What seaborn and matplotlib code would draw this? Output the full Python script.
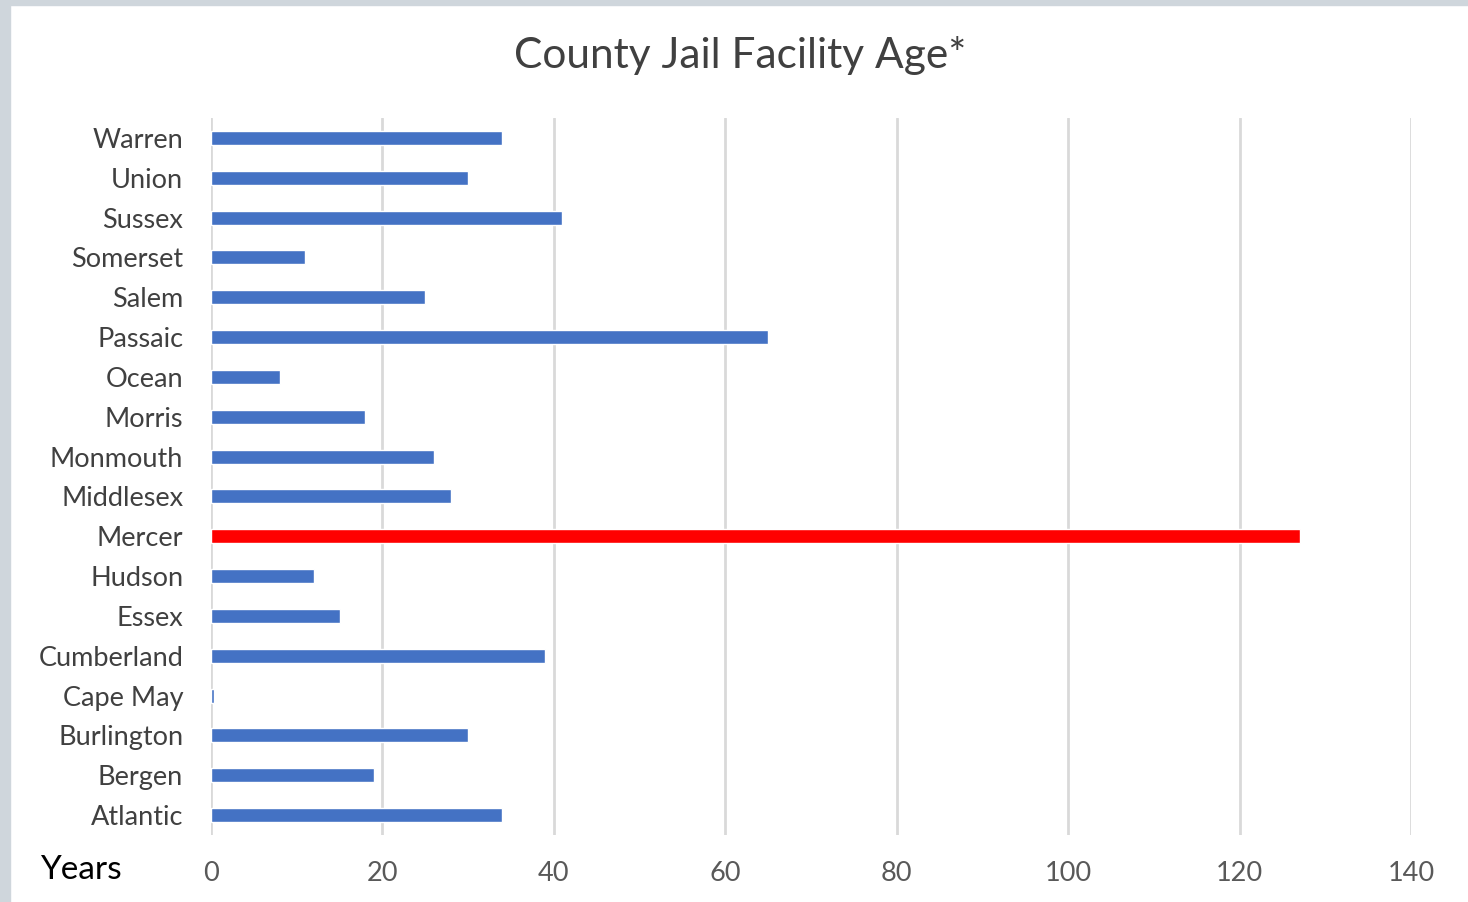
import pandas as pd
import matplotlib.pyplot as plt
import seaborn as sns
from matplotlib.patches import Rectangle

# County jail facility age (years), top of chart first
counties = ['Warren', 'Union', 'Sussex', 'Somerset', 'Salem', 'Passaic', 'Ocean',
            'Morris', 'Monmouth', 'Middlesex', 'Mercer', 'Hudson', 'Essex',
            'Cumberland', 'Cape May', 'Burlington', 'Bergen', 'Atlantic']
ages = [34, 30, 41, 11, 25, 65, 8, 18, 26, 28, 127, 12, 15, 39, 0.4, 30, 19, 34]
highlight = 'Mercer'
x_ticks = [0, 20, 40, 60, 80, 100, 120, 140]

df = pd.DataFrame({'County': counties, 'Age': ages})
df['Group'] = ['hi' if c == highlight else 'base' for c in df['County']]

sns.set_style('white')
plt.rcParams['font.family'] = ['Lato', 'DejaVu Sans']

fig = plt.figure(figsize=(14.68, 9.02), dpi=100)
ax = fig.add_axes([0.1437, 0.0743, 0.8175, 0.7949])

sns.barplot(data=df, x='Age', y='County', hue='Group', order=counties,
            palette={'base': '#4472C4', 'hi': '#FF0000'}, width=0.35,
            saturation=1, dodge=False, legend=False, ax=ax)

ax.set_xlim(0, 140)
ax.set_xticks(x_ticks)
ax.grid(axis='x', color='#d9d9d9', linewidth=2)
ax.set_axisbelow(True)
for s in ax.spines.values():
    s.set_visible(False)
ax.tick_params(axis='y', length=0, pad=20, labelsize=19.5, labelcolor='#404040')
ax.tick_params(axis='x', length=0, pad=19, labelsize=19.5, labelcolor='#595959')
for lbl in ax.get_yticklabels() + ax.get_xticklabels():
    lbl.set_fontstretch('expanded')
ax.set_xlabel('')
ax.set_ylabel('')

fig.text(0.504, 0.938, 'County Jail Facility Age*', ha='center', va='center',
         fontsize=30.5, color='#404040')
fig.text(0.027, 0.036, 'Years', ha='left', va='center', fontsize=24, color='black')

# screenshot frame on the left and top
fig.patches.append(Rectangle((0, 0), 0.007, 1, transform=fig.transFigure,
                             color='#cfd6dc', zorder=0))
fig.patches.append(Rectangle((0, 0.994), 1, 0.006, transform=fig.transFigure,
                             color='#cfd6dc', zorder=0))

fig.savefig('out.png', dpi=100)
